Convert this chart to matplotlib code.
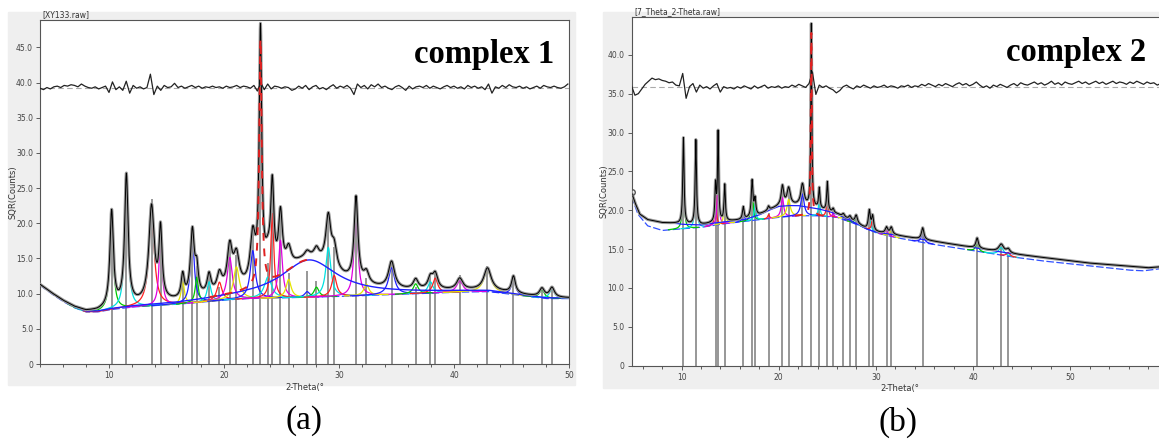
import numpy as np
import matplotlib.pyplot as plt
from matplotlib.patches import Rectangle
from matplotlib.ticker import FuncFormatter, MultipleLocator, FixedLocator

# ---------------- complex 1 (panel a) ----------------
bg1_x = [4, 5, 6, 7, 8, 9, 10, 12, 14, 16, 18, 20, 22, 25, 30, 35, 40, 43, 46, 48, 50]
bg1_y = [11.2, 10.0, 8.9, 8.0, 7.4, 7.4, 7.7, 8.1, 8.3, 8.5, 8.8, 9.1, 9.3, 9.4, 9.6, 9.9, 10.2, 10.3, 9.7, 9.3, 9.3]
hump1_pos, hump1_h, hump1_w = 27.4, 5.3, 3.0

pk1_pos = [10.23, 11.51, 13.70, 14.48, 16.41, 17.25, 17.63, 18.70, 19.60, 20.50, 21.08, 22.50,
           23.17, 23.82, 24.20, 24.91, 25.62, 27.23, 28.04, 29.07, 29.58, 31.48, 32.38, 34.57,
           36.67, 37.95, 38.37, 40.50, 42.91, 45.17, 47.65, 48.52]
pk1_h = [13.6, 18.4, 13.6, 9.8, 3.3, 9.4, 3.6, 2.8, 2.6, 6.0, 4.6, 6.8,
         35.0, 3.0, 12.0, 8.2, 2.6, 0.8, 1.4, 7.0, 3.0, 12.0, 1.6, 3.8,
         1.4, 1.6, 2.1, 1.6, 3.1, 2.4, 1.2, 1.4]
pk1_w = [0.18, 0.18, 0.28, 0.16, 0.16, 0.2, 0.16, 0.2, 0.26, 0.26, 0.3, 0.26,
         0.13, 0.38, 0.16, 0.2, 0.26, 0.26, 0.26, 0.26, 0.26, 0.2, 0.26, 0.32,
         0.26, 0.26, 0.26, 0.32, 0.38, 0.2, 0.26, 0.26]
tick1_top = [21.9, 27.2, 23.4, 19.6, 12.5, 19.1, 13.9, 12.5, 11.0, 16.7, 15.5, 18.6,
             48.0, 14.4, 26.2, 21.9, 12.9, 13.2, 11.8, 20.5, 16.7, 23.8, 12.2, 14.8,
             11.0, 12.5, 13.2, 12.7, 13.9, 12.5, 10.6, 10.8]

diff1 = [39.2, 39.0, 39.3, 39.1, 39.4, 39.5, 39.3, 39.6, 39.5, 39.7,
         39.6, 39.4, 39.8, 39.5, 39.3, 39.2, 39.4, 39.1, 39.3, 39.5,
         38.6, 40.1, 39.0, 39.4, 38.9, 40.2, 38.5, 39.6, 39.2, 39.4,
         39.1, 39.3, 41.2, 38.3, 39.5, 38.9, 39.6, 39.3, 39.4, 39.9,
         39.3, 39.5, 39.2, 39.4, 39.6, 39.3, 39.5, 39.2, 39.4, 39.3,
         39.5, 39.3, 39.4, 39.2, 39.5, 39.3, 39.4, 39.6, 39.3, 39.5,
         39.4, 39.2, 39.6, 38.8, 40.0, 39.0, 39.8, 39.1, 39.5, 39.4,
         39.2, 39.4, 39.3, 38.9, 39.1, 39.5, 39.2, 39.6, 39.0, 39.4,
         39.6, 39.1, 39.3, 39.0, 39.4, 39.7, 39.2, 39.5, 39.3, 39.6,
         39.2, 38.3, 39.8, 39.3, 39.6, 39.1, 39.7, 39.4, 39.8, 39.3,
         39.5, 39.2, 39.0, 39.4, 39.6, 39.3, 38.9, 39.5, 39.1, 39.4,
         39.5, 39.3, 39.6, 39.2, 39.5, 39.3, 39.1, 39.4, 39.6, 39.3,
         39.5, 39.2, 39.4, 39.1, 39.6, 39.3, 39.5, 39.2, 39.4, 39.0,
         39.8, 38.5, 39.4, 39.2, 39.6, 39.3, 39.7, 39.4, 39.3, 39.5,
         39.2, 39.4, 39.1, 39.3, 39.5, 39.2, 39.6, 39.4, 39.3, 39.5,
         39.3, 39.2, 39.4, 39.8]
diff1_zero = 39.3

# ---------------- complex 2 (panel b) ----------------
bg2_x = [4.85, 5.2, 5.7, 6.5, 8, 9.5, 10, 12, 13, 15, 16.5, 18, 19, 20, 21, 22, 23, 24, 25, 26,
         27, 28, 29, 30, 31, 32, 34, 36, 38, 40, 42, 44, 46, 48, 50, 52, 54, 56, 58, 60]
bg2_y = [22.3, 21.0, 19.5, 18.8, 18.4, 18.3, 18.2, 18.1, 18.3, 18.6, 18.8, 19.4, 20.0, 20.5, 20.6, 20.6,
         20.4, 20.2, 19.9, 19.5, 18.9, 18.3, 17.6, 17.2, 17.0, 16.8, 16.4, 16.0, 15.6, 15.2, 14.8,
         14.4, 14.1, 13.8, 13.5, 13.2, 13.0, 12.8, 12.6, 12.8]
base2_x = [4.85, 5.5, 6.5, 8, 10, 12, 14, 16, 18, 20, 22, 24, 26, 28, 30, 32, 35, 38, 41, 44, 47,
           50, 53, 56, 57.5, 60]
base2_y = [21.8, 19.5, 18.0, 17.4, 17.6, 17.8, 18.2, 18.5, 18.8, 19.1, 19.3, 19.3, 19.1, 18.2, 17.1,
           16.5, 15.8, 15.2, 14.6, 14.0, 13.5, 13.1, 12.7, 12.3, 12.2, 12.6]

pk2_pos = [10.19, 11.47, 13.50, 13.76, 14.44, 16.35, 17.26, 17.56, 18.95, 20.38, 21.02, 22.44,
           23.35, 24.17, 25.00, 25.60, 26.65, 27.33, 27.97, 29.32, 29.66, 31.09, 31.58, 34.81,
           40.41, 42.89, 43.61]
pk2_h = [11.1, 10.9, 4.7, 11.4, 4.7, 1.6, 4.6, 2.1, 0.5, 2.5, 2.2, 2.8,
         23.5, 2.6, 3.7, 0.5, 0.4, 0.5, 1.0, 2.4, 1.8, 0.8, 0.9, 1.5,
         1.3, 1.0, 0.5]
pk2_w = [0.08, 0.08, 0.08, 0.07, 0.08, 0.1, 0.1, 0.1, 0.1, 0.15, 0.2, 0.2,
         0.06, 0.08, 0.08, 0.1, 0.15, 0.15, 0.15, 0.12, 0.12, 0.15, 0.15, 0.15,
         0.15, 0.3, 0.2]
tick2_top = [29.3, 29.0, 23.0, 29.7, 23.2, 20.3, 23.7, 21.3, 19.7, 23.0, 22.8, 23.4,
             43.9, 22.8, 23.6, 20.2, 19.1, 19.1, 19.3, 20.0, 19.3, 17.8, 17.8, 17.4,
             16.3, 15.4, 14.3]

diff2 = [36.0, 34.8, 35.0, 35.6, 36.2, 36.6, 37.0, 36.8, 36.9, 36.7,
         36.6, 36.4, 36.5, 36.1, 36.0, 37.6, 34.4, 35.9, 36.3, 35.2,
         36.1, 35.7, 35.9, 35.6, 36.0, 36.3, 35.2, 35.9, 35.7, 35.8,
         35.6, 35.9, 35.7, 36.0, 35.8, 35.6, 36.0, 35.7, 35.9, 36.1,
         35.7, 35.9, 35.8, 36.0, 35.7, 35.9, 35.8, 36.1, 35.9, 36.2,
         36.0, 35.8, 36.3, 37.8, 34.9, 36.1, 35.8, 36.0, 35.7, 35.5,
         35.1, 35.4, 35.9, 36.1, 35.8, 35.6, 36.0, 35.8, 36.1, 35.9,
         35.7, 36.0, 35.8, 35.9, 36.1, 35.8, 36.0, 35.9, 35.7, 36.0,
         35.9, 36.1, 35.8, 36.0, 35.9, 36.2, 36.0, 36.3, 36.1, 35.9,
         36.2, 36.0, 36.3, 36.1, 35.9, 36.2, 36.4, 36.1, 36.3, 36.0,
         36.2, 36.5, 36.1, 35.8, 36.0, 35.7, 36.1, 35.9, 36.2, 36.0,
         35.8, 36.1, 36.3, 36.0, 36.4, 36.2, 36.1, 36.3, 36.5, 36.2,
         36.4, 36.1, 36.3, 36.6, 36.2, 36.4, 36.1, 36.5, 36.3, 36.2,
         36.4, 36.6, 36.3, 36.5, 36.2, 36.4, 36.6, 36.3, 36.5, 36.2,
         36.4, 36.6, 36.3, 36.5, 36.4, 36.2, 36.5, 36.3, 36.6, 36.4,
         36.2, 36.5, 36.3, 36.4, 36.1, 36.3, 36.2, 36.0]
diff2_zero = 35.8

comp_colors = ['#00c800', '#00e0e0', '#ff2020', '#e000e0', '#e6e600', '#2020ff']


def lor(x, p, h, w):
    return h / (1 + ((x - p) / w) ** 2)


def draw_panel(ax, x, obs_bg, comp_bg, hump, pos, hh, ww, tops, diff, diff_x, zero, main_idx):
    peaks = [lor(x, p, h, w) for p, h, w in zip(pos, hh, ww)]
    obs = obs_bg + hump + np.sum(peaks, axis=0)

    ax.vlines(pos, 0, tops, color='#7a7a7a', lw=1.1, zorder=1)
    ax.plot(x, comp_bg, color='#3050ff', lw=0.9, ls=(0, (6, 2)), zorder=2)
    for i, pk in enumerate(peaks):
        if i == main_idx:
            continue
        y = np.where(pk > 0.03, comp_bg + pk, np.nan)
        ax.plot(x, y, color=comp_colors[i % len(comp_colors)], lw=0.9, zorder=3)
    ax.plot(x, obs, color='#9a9a9a', lw=2.2, zorder=4)
    ax.plot(x, obs, color='black', lw=0.7, zorder=5)
    y = np.where(peaks[main_idx] > 0.03, comp_bg + hump + peaks[main_idx], np.nan)
    ax.plot(x, y, color='#e02020', lw=1.4, ls=(0, (4, 4)), zorder=6)

    ax.axhline(zero, color='#aaaaaa', lw=0.8, ls=(0, (5, 3)), zorder=2)
    ax.plot(diff_x, diff, color='#222222', lw=0.9, zorder=5)
    return obs


def style_axes(ax, ylab_x):
    for s in ax.spines.values():
        s.set_color('#555555')
        s.set_linewidth(0.8)
    ax.xaxis.set_major_locator(FixedLocator([10, 20, 30, 40, 50]))
    ax.xaxis.set_minor_locator(MultipleLocator(2))
    ax.yaxis.set_major_locator(MultipleLocator(5))
    ax.yaxis.set_major_formatter(FuncFormatter(lambda v, _: '0' if v == 0 else f'{v:.1f}'))
    ax.tick_params(which='major', labelsize=5.5, length=3, width=0.6, colors='#444444', pad=2)
    ax.tick_params(which='minor', length=2, width=0.6, colors='#444444')
    ax.set_xlabel('2-Theta(°', fontsize=6, labelpad=2, color='#333333')
    ax.set_ylabel('SQR(Counts)', fontsize=6, color='#333333')
    ax.yaxis.set_label_coords(ylab_x, 0.5)


W, H = 1159, 443
fig = plt.figure(figsize=(W / 100, H / 100), dpi=100)
fig.add_artist(Rectangle((8 / W, 1 - 385 / H), 567 / W, 373 / H, transform=fig.transFigure,
                         color='#efefef', zorder=0))
fig.add_artist(Rectangle((603 / W, 1 - 388 / H), 560 / W, 376 / H, transform=fig.transFigure,
                         color='#efefef', zorder=0))

# panel a
ax1 = fig.add_axes([40 / W, 1 - 364 / H, 529 / W, 344 / H])
x1 = np.linspace(4, 50, 4601)
bg1 = np.interp(x1, bg1_x, bg1_y)
h1 = lor(x1, hump1_pos, hump1_h, hump1_w)
draw_panel(ax1, x1, bg1, bg1, h1, pk1_pos, pk1_h, pk1_w, tick1_top,
           diff1, np.linspace(4, 49.9, len(diff1)), diff1_zero, 12)
ax1.plot(x1, bg1 + h1, color='#2020ff', lw=1.0, zorder=3)
ax1.set_xlim(4, 50)
ax1.set_ylim(0, 48.9)
style_axes(ax1, -0.042)
ax1.text(0.005, 1.003, '[XY133.raw]', transform=ax1.transAxes, fontsize=5.5, va='bottom',
         color='#333333')

# panel b
ax2 = fig.add_axes([631.5 / W, 1 - 365.7 / H, 536 / W, 349 / H])
x2 = np.linspace(4.85, 60, 5516)
bg2 = np.interp(x2, bg2_x, bg2_y)
base2 = np.interp(x2, base2_x, base2_y)
obs2 = draw_panel(ax2, x2, bg2, base2, np.zeros_like(x2), pk2_pos, pk2_h, pk2_w, tick2_top,
                  diff2, np.linspace(4.85, 60, len(diff2)), diff2_zero, 12)
ax2.plot(x2, bg2, color='#2020ff', lw=0.9, zorder=3)
ax2.plot(x2[0], obs2[0], 'o', mfc='none', mec='#555555', ms=4, zorder=6)
ax2.set_xlim(4.85, 60)
ax2.set_ylim(0, 44.9)
style_axes(ax2, -0.042)
ax2.text(0.005, 1.003, '[7_Theta_2-Theta.raw]', transform=ax2.transAxes, fontsize=5.5,
         va='bottom', color='#333333')

fig.text(554 / W, 1 - 55 / H, 'complex 1', ha='right', va='center', fontsize=23.5,
         fontweight='bold', family='Liberation Serif')
fig.text(1146 / W, 1 - 52 / H, 'complex 2', ha='right', va='center', fontsize=23.5,
         fontweight='bold', family='Liberation Serif')
fig.text(304 / W, 1 - 421 / H, '(a)', ha='center', va='center', fontsize=24,
         family='Liberation Serif')
fig.text(898 / W, 1 - 422 / H, '(b)', ha='center', va='center', fontsize=24,
         family='Liberation Serif')

fig.savefig('out.png', dpi=100)
